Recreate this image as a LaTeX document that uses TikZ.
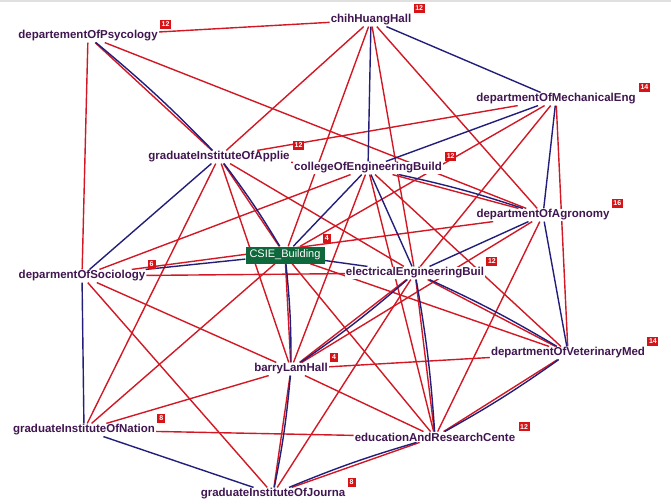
\documentclass[tikz,border=0pt]{standalone}
\usepackage{fontspec}
\setmainfont{Liberation Sans}
\usetikzlibrary{positioning,backgrounds}

\definecolor{labelpurple}{RGB}{64,22,80}
\definecolor{edgered}{RGB}{210,24,36}
\definecolor{edgeblue}{RGB}{34,30,122}
\definecolor{badgered}{RGB}{214,20,24}
\definecolor{csiegreen}{RGB}{14,104,60}

\tikzset{
  place/.style={rectangle, fill=white, inner sep=1pt, text=labelpurple, font=\fontsize{11.5}{12}\selectfont\bfseries},
  badge/.style={rectangle, fill=badgered, text=white, inner sep=0.8pt, minimum width=11pt, minimum height=9.5pt, font=\fontsize{7}{7}\selectfont\bfseries, anchor=south west},
  csiebox/.style={rectangle, fill=csiegreen, text=white, minimum width=79pt, minimum height=17pt, inner sep=2pt, font=\fontsize{11}{12}\selectfont},
  redline/.style={draw=edgered, line width=1.4pt},
  blueline/.style={draw=edgeblue, line width=1.4pt}
}

\begin{document}
\begin{tikzpicture}[x=1pt, y=-1pt]
\useasboundingbox (0,0) rectangle (671,503);
\fill[black!12] (0,0) rectangle (671,2);

% buildings
\node (psy) [place] at (88,36) {departementOfPsycology};
\node (chih) [place] at (371,20) {chihHuangHall};
\node (mech) [place] at (556,99) {departmentOfMechanicalEng};
\node (app) [place] at (219,157) {graduateInstituteOfApplie};
\node (col) [place] at (368,168) {collegeOfEngineeringBuild};
\node (agr) [place] at (543,215) {departmentOfAgronomy};
\node (csie) [csiebox] at (285,255) {CSIE\_Building};
\node (soc) [place] at (82,276) {deparmentOfSociology};
\node (ee) [place] at (415,273) {electricalEngineeringBuil};
\node (barry) [place] at (291,369) {barryLamHall};
\node (vet) [place] at (568,353) {departmentOfVeterinaryMed};
\node (nat) [place] at (84,430) {graduateInstituteOfNation};
\node (edu) [place] at (435,437) {educationAndResearchCente};
\node (jour) [place] at (273,494) {graduateInstituteOfJourna};

% counts
\node (psyN) [badge] at ([xshift=1pt]psy.north east) {12};
\node (chihN) [badge] at ([xshift=1pt]chih.north east) {12};
\node (mechN) [badge] at ([xshift=2pt]mech.north east) {14};
\node (appN) [badge] at ([xshift=2pt]app.north east) {12};
\node (colN) [badge] at ([xshift=2pt]col.north east) {12};
\node (agrN) [badge] at ([xshift=1pt]agr.north east) {16};
\node (csieN) [badge, minimum width=8pt] at ([xshift=-2pt,yshift=3pt]csie.north east) {4};
\node (socN) [badge, minimum width=8pt] at ([xshift=1pt]soc.north east) {6};
\node (eeN) [badge] at ([xshift=1pt]ee.north east) {12};
\node (barryN) [badge, minimum width=8pt] at ([xshift=1pt]barry.north east) {4};
\node (vetN) [badge] at ([xshift=1pt]vet.north east) {14};
\node (natN) [badge, minimum width=8pt] at ([xshift=1pt]nat.north east) {8};
\node (eduN) [badge] at ([xshift=2pt]edu.north east) {12};
\node (jourN) [badge, minimum width=8pt] at ([xshift=1pt]jour.north east) {8};

\begin{scope}[on background layer]
% red links
\foreach \a/\b in {psy/chih, psy/app, psy/agr, psy/soc,
  chih/app, chih/csie, chih/ee, chih/agr,
  mech/app, mech/csie, mech/ee, mech/vet,
  app/col, app/nat, app/csie, app/barry, app/ee,
  col/soc, col/agr, col/barry, col/edu, col/vet,
  soc/ee, soc/jour, soc/barry, soc/agr,
  agr/barry, agr/edu,
  csie/nat, csie/barry, csie/edu, csie/vet,
  ee/barry, ee/jour, ee/edu, ee/vet,
  barry/nat, barry/vet, barry/edu, barry/jour,
  nat/edu, vet/edu, jour/edu}
  \draw[redline] (\a) -- (\b);
% blue links
\foreach \a/\b in {chih/col, chih/mech, mech/col, mech/agr,
  app/soc, col/csie, col/ee, soc/csie, soc/nat, agr/ee, agr/vet,
  csie/ee, nat/jour}
  \draw[blueline] (\a) -- (\b);
% blue links beside a red one
\foreach \a/\b in {psy/app, app/csie, col/agr, csie/barry, ee/barry,
  ee/edu, ee/vet, barry/jour, vet/edu, jour/edu}
  \draw[blueline] (\a) to[bend left=3] (\b);
\end{scope}
\end{tikzpicture}
\end{document}
